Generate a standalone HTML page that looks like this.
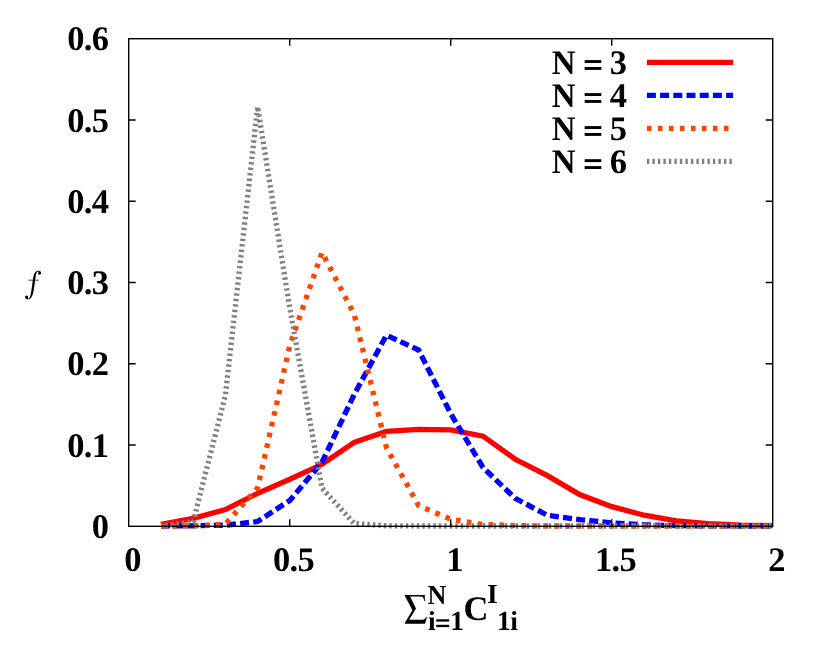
<!DOCTYPE html>
<html lang="en"><head><meta charset="utf-8"><title>chart</title>
<style>
html,body{margin:0;padding:0;background:#fff;}
svg{display:block;will-change:transform;}
text{font-family:"Liberation Serif",serif;font-weight:bold;fill:#000;text-rendering:geometricPrecision;}
.m{font-size:34.5px;letter-spacing:-0.6px;}
.s{font-size:27.5px;letter-spacing:-0.5px;}
</style></head><body>
<svg width="830" height="665" viewBox="0 0 830 665" role="img" aria-label="Distribution f versus sum of C for N = 3, 4, 5, 6">
<rect x="0" y="0" width="830" height="665" fill="#ffffff"/>
<g fill="none" stroke-linejoin="miter" stroke-linecap="butt" stroke-width="5.30">
<path d="M161.00 524.38 L193.21 518.37 L225.41 509.60 L257.62 493.28 L289.82 479.23 L322.03 464.29 L354.23 442.36 L386.44 431.48 L418.64 429.29 L450.85 429.94 L483.06 436.19 L515.26 459.25 L547.46 475.66 L579.67 494.58 L611.88 506.67 L644.08 515.20 L676.28 520.97 L708.49 523.56 L740.69 525.03 L772.90 525.68" stroke="#ff0000"/>
<path d="M161.00 526.00 L193.21 525.76 L225.41 525.19 L257.62 521.53 L289.82 500.42 L322.03 462.18 L354.23 394.46 L386.44 335.18 L418.64 350.04 L450.85 413.94 L483.06 467.54 L515.26 498.39 L547.46 515.28 L579.67 519.59 L611.88 522.91 L644.08 524.86 L676.28 525.59 L708.49 525.84 L740.69 526.00 L772.90 526.00" stroke="#0000ff" stroke-dasharray="9 4.2"/>
<path d="M161.00 526.00 L193.21 526.00 L225.41 524.21 L257.62 487.84 L289.82 345.33 L322.03 252.36 L354.23 314.39 L386.44 447.64 L418.64 505.62 L450.85 519.34 L483.06 524.38 L515.26 525.59 L547.46 526.00 L579.67 526.00 L611.88 526.00 L644.08 526.00 L676.28 526.00 L708.49 526.00 L740.69 526.00 L772.90 526.00" stroke="#ff4500" stroke-dasharray="4.6 6.4"/>
<path d="M161.00 526.00 L193.21 521.70 L225.41 395.27 L257.62 106.76 L289.82 308.38 L322.03 488.24 L354.23 523.56 L386.44 525.76 L418.64 526.00 L450.85 526.00 L483.06 526.00 L515.26 526.00 L547.46 526.00 L579.67 526.00 L611.88 526.00 L644.08 526.00 L676.28 526.00 L708.49 526.00 L740.69 526.00 L772.90 526.00" stroke="#808080" stroke-dasharray="2.4 3.1" stroke-dashoffset="0.88"/>
<path d="M646.9 62.3 L733.1 62.3" stroke="#ff0000"/>
<path d="M646.9 95.3 L733.1 95.3" stroke="#0000ff" stroke-dasharray="9 4.2"/>
<path d="M646.9 128.3 L733.1 128.3" stroke="#ff4500" stroke-dasharray="4.6 6.4"/>
<path d="M646.9 161.4 L733.1 161.4" stroke="#808080" stroke-dasharray="2.4 3.1"/>
</g>
<g fill="none" stroke="#000" stroke-width="1.4" stroke-linecap="butt" stroke-linejoin="miter">
<rect x="128.7" y="38.7" width="644.0" height="487.6"/>
<path d="M289.7 526.3 v-7 M289.7 38.7 v7"/>
<path d="M450.7 526.3 v-7 M450.7 38.7 v7"/>
<path d="M611.7 526.3 v-7 M611.7 38.7 v7"/>
<path d="M128.7 445.0 h7 M772.7 445.0 h-7"/>
<path d="M128.7 363.8 h7 M772.7 363.8 h-7"/>
<path d="M128.7 282.5 h7 M772.7 282.5 h-7"/>
<path d="M128.7 201.2 h7 M772.7 201.2 h-7"/>
<path d="M128.7 120.0 h7 M772.7 120.0 h-7"/>
</g>
<g class="m" text-anchor="end">
<text x="108.5" y="537.8">0</text>
<text x="108.5" y="456.5">0.1</text>
<text x="108.5" y="375.3">0.2</text>
<text x="108.5" y="294.0">0.3</text>
<text x="108.5" y="212.7">0.4</text>
<text x="108.5" y="131.5">0.5</text>
<text x="108.5" y="50.2">0.6</text>
</g>
<g class="m" text-anchor="middle">
<text x="132.5" y="570.7">0</text>
<text x="293.6" y="570.7">0.5</text>
<text x="454.6" y="570.7">1</text>
<text x="615.6" y="570.7">1.5</text>
<text x="776.6" y="570.7">2</text>
</g>
<g class="m">
<text transform="translate(551.8 73.5) scale(0.955 1)">N</text><text x="609.85" y="73.5">3</text>
<rect x="584.65" y="60.10" width="16.65" height="2.9"/><rect x="584.65" y="67.00" width="16.65" height="2.9"/>
<text transform="translate(551.8 106.5) scale(0.955 1)">N</text><text x="609.85" y="106.5">4</text>
<rect x="584.65" y="93.10" width="16.65" height="2.9"/><rect x="584.65" y="100.00" width="16.65" height="2.9"/>
<text transform="translate(551.8 139.5) scale(0.955 1)">N</text><text x="609.85" y="139.5">5</text>
<rect x="584.65" y="126.10" width="16.65" height="2.9"/><rect x="584.65" y="133.00" width="16.65" height="2.9"/>
<text transform="translate(551.8 172.6) scale(0.955 1)">N</text><text x="609.85" y="172.6">6</text>
<rect x="584.65" y="159.20" width="16.65" height="2.9"/><rect x="584.65" y="166.10" width="16.65" height="2.9"/>
</g>
<path aria-label="f" d="M 37.98 270.79 C 40.05 270.58 41.44 271.83 41.16 273.28 C 40.95 274.46 39.78 274.87 38.94 274.53 C 38.11 274.18 37.84 273.28 38.39 272.52 C 38.67 272.10 38.53 271.55 37.84 271.55 C 36.59 271.69 36.04 274.11 35.62 276.88 L 35.21 279.65 L 38.88 279.65 L 38.88 280.55 L 35.07 280.55 C 34.65 284.15 34.10 288.30 33.41 291.76 C 32.72 295.22 31.33 299.37 27.80 299.44 C 25.93 299.44 24.83 298.12 25.10 296.81 C 25.38 295.63 26.63 295.22 27.46 295.63 C 28.29 296.05 28.43 296.95 28.01 297.57 C 27.73 298.12 28.01 298.68 28.56 298.61 C 29.81 298.40 30.50 295.22 31.06 292.45 C 31.75 288.64 32.30 284.15 32.72 280.55 L 28.49 280.55 L 28.49 279.65 L 32.85 279.65 C 33.41 275.84 34.52 271.07 37.98 270.79 Z" fill="#000"/>
<path aria-label="sum" d="M 404.81 595.11 L 424.78 595.11 L 424.90 600.95 L 424.18 600.95 C 423.82 598.12 422.86 596.62 420.45 596.62 L 410.11 596.62 L 416.00 608.41 L 409.14 619.83 L 421.05 619.83 C 423.76 619.83 425.14 618.87 426.23 616.95 L 426.95 617.19 L 425.02 623.68 L 404.81 623.68 L 404.81 623.02 L 412.39 610.33 L 404.81 595.83 Z" fill="#000"/>
<text class="s" transform="translate(427.5 603.5) scale(0.95 1)">N</text>
<text class="s" x="427.9" y="629.9">i</text>
<rect x="436.2" y="619.3" width="13.0" height="2.3"/><rect x="436.2" y="624.8" width="13.0" height="2.3"/>
<text class="s" x="450.2" y="629.9">1</text>
<text class="m" x="463.5" y="620.0">C</text>
<text class="s" x="486.95" y="603.3">I</text>
<text class="s" x="497.0" y="629.9">1i</text>
</svg>
</body></html>
